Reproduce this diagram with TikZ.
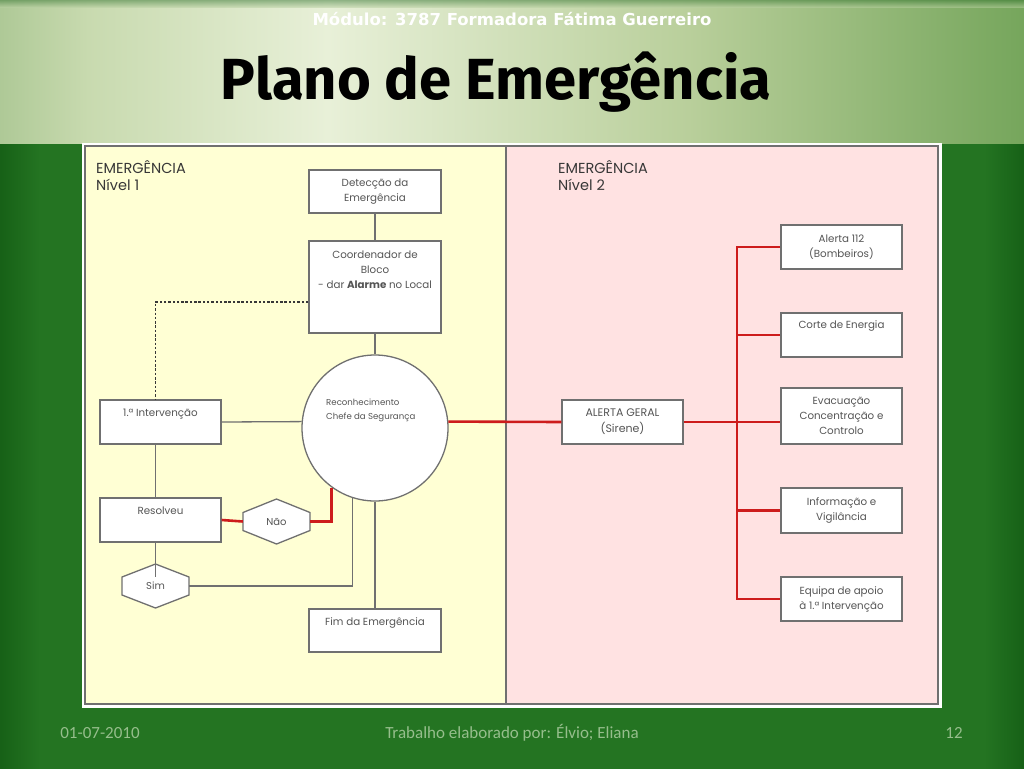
\documentclass[tikz,border=0pt]{standalone}
\usepackage{fontspec}
\setmainfont{Poppins}
\newfontfamily\titlefont{Fira Sans}
\newfontfamily\subfont{DejaVu Sans}
\newfontfamily\footfont{Carlito}
\usetikzlibrary{calc}
\definecolor{slidegreen}{RGB}{36,116,34}
\definecolor{darkgreen}{RGB}{22,96,22}
\definecolor{lightg}{RGB}{232,240,216}
\definecolor{hA}{RGB}{95,148,75}
\definecolor{hB}{RGB}{200,218,175}
\definecolor{hC}{RGB}{185,207,155}
\definecolor{hD}{RGB}{105,158,80}
\definecolor{hE}{RGB}{48,124,40}
\definecolor{yellowbg}{RGB}{255,255,212}
\definecolor{pinkbg}{RGB}{255,226,226}
\definecolor{boxgrey}{RGB}{112,112,112}
\definecolor{txtgrey}{RGB}{85,85,85}
\definecolor{headgrey}{RGB}{55,55,55}
\definecolor{redline}{RGB}{205,28,28}
\definecolor{foottxt}{RGB}{150,190,140}
\pgfdeclarehorizontalshading{slidehdr}{100bp}{color(0bp)=(darkgreen); color(11.7bp)=(hA); color(29.3bp)=(hB); color(41bp)=(lightg); color(58.6bp)=(hC); color(78.1bp)=(hD); color(92.8bp)=(hE); color(100bp)=(slidegreen)}
\begin{document}
\begin{tikzpicture}[x=1pt,y=-1pt,
  box/.style={draw=boxgrey, line width=1.3pt, fill=white, minimum width=121pt, minimum height=44pt, inner sep=1pt,
    font=\fontsize{10.3}{15}\selectfont, text=txtgrey, align=center},
  wbox/.style={box, minimum width=132pt, minimum height=43pt},
  boxtext/.style={font=\fontsize{10.3}{15}\selectfont, text=txtgrey, align=center, inner sep=0pt},
  heading/.style={font=\fontsize{14.5}{17}\selectfont, text=headgrey, align=left, inner sep=0pt},
  greyline/.style={draw=boxgrey, line width=1.3pt},
  redcon/.style={draw=redline, line width=2.6pt},
  dashcon/.style={draw=headgrey, line width=1.2pt, dash pattern=on 2.5pt off 1.8pt},
  hexshape/.style={draw=boxgrey, line width=1.3pt, fill=white},
  foot/.style={font=\footfont\fontsize{17}{19}\selectfont, text=foottxt, anchor=base}
]
\useasboundingbox (0,0) rectangle (1024,768);
% slide background
\fill[slidegreen] (-5,-5) rectangle (1030,775);
\shade[left color=darkgreen, right color=slidegreen] (-2,-2) rectangle (40,772);
\shade[left color=slidegreen, right color=darkgreen] (984,-2) rectangle (1026,772);
\shade[shading=slidehdr] (0,-2) rectangle (1024,143);
\shade[top color=darkgreen, bottom color=hB, opacity=0.5] (-2,-2) rectangle (1026,8);

% titles
\node[font=\subfont\bfseries\fontsize{16.5}{18}\selectfont, text=white, anchor=base] (modulo) at (512,26) {Módulo: 3787 Formadora Fátima Guerreiro};
\node[font=\titlefont\bfseries\fontsize{58}{60}\selectfont, text=black, anchor=base] (titulo) at (496,99) {Plano de Emergência};

% footer
\node[foot] (data) at (100,738) {01-07-2010};
\node[foot] (autores) at (512,738) {Trabalho elaborado por: Élvio; Eliana};
\node[foot] (pagina) at (954,738) {12};

% diagram frame
\fill[white] (82,143) rectangle (942,708);
\fill[yellowbg] (86,147) rectangle (506,703);
\fill[pinkbg] (506,147) rectangle (937,703);
\draw[boxgrey, line width=2.5pt] (85,146) rectangle (938,704);
\draw[boxgrey, line width=2pt] (506,146) -- (506,704);

% headings
\node[heading, anchor=north west] (h1) at (96,160) {EMERGÊNCIA\\Nível 1};
\node[heading, anchor=north west] (h2) at (558,160) {EMERGÊNCIA\\Nível 2};

% level 1 nodes
\node[wbox] (det) at (375,191.5) {Detecção da\\Emergência};
\node[wbox, minimum height=92pt] (coord) at (375,287) {};
\node[boxtext, anchor=north] (coordtxt) at ([yshift=-10pt]coord.north) {Coordenador de\\Bloco\\- dar \textbf{Alarme} no Local};
\node[circle, draw=boxgrey, line width=1.3pt, fill=white, minimum size=146pt, inner sep=0pt] (chefe) at (375,428) {};
\node[font=\fontsize{8.6}{14}\selectfont, text=txtgrey, align=left, anchor=north west, inner sep=0pt] (chefetxt) at (326,399) {Reconhecimento\\Chefe da Segurança};
\node[box] (int) at (160.5,422) {};
\node[boxtext, anchor=north] (inttxt) at ([yshift=-9pt]int.north) {1.ª Intervenção};
\node[box] (res) at (160.5,520) {};
\node[boxtext, anchor=north] (restxt) at ([yshift=-9pt]res.north) {Resolveu};
\node[wbox] (fim) at (375,630.5) {};
\node[boxtext, anchor=north] (fimtxt) at ([yshift=-9pt]fim.north) {Fim da Emergência};

% hexagons
\draw[hexshape, shift={(276.5,521.5)}] (-33.5,-9) -- (0,-22.5) -- (33.5,-9) -- (33.5,9) -- (0,22.5) -- (-33.5,9) -- cycle;
\node[minimum width=67pt, minimum height=18pt, inner sep=0pt, font=\fontsize{10}{12}\selectfont, text=txtgrey] (nao) at (276.5,521.5) {Não};
\draw[hexshape, shift={(155.5,586)}] (-33.5,-9) -- (0,-22) -- (33.5,-9) -- (33.5,9) -- (0,22) -- (-33.5,9) -- cycle;
\node[minimum width=67pt, minimum height=18pt, inner sep=0pt, font=\fontsize{10}{12}\selectfont, text=txtgrey] (sim) at (155.5,586) {Sim};

% level 2 nodes
\node[box, font=\fontsize{11}{16}\selectfont] (alerta) at (622.5,422) {ALERTA GERAL\\(Sirene)};
\node[box] (a112) at (841.5,247) {Alerta 112\\(Bombeiros)};
\node[box] (corte) at (841.5,335) {};
\node[boxtext, anchor=north] (cortetxt) at ([yshift=-8pt]corte.north) {Corte de Energia};
\node[box, minimum height=56pt] (evac) at (841.5,416) {Evacuação\\Concentração e\\Controlo};
\node[box, minimum height=45pt] (info) at (841.5,510.5) {Informação e\\Vigilância};
\node[box] (equipa) at (841.5,599) {Equipa de apoio\\à 1.ª Intervenção};
\coordinate (tk) at (737,0);

% grey connectors
\draw[greyline] (det) -- (coord);
\draw[greyline] (coord) -- (chefe);
\draw[greyline] (int.east) -- (chefe.175);
\draw[greyline] (int.south -| sim.north) -- (res.north -| sim.north);
\draw[greyline] (res.south -| sim.north) -- (sim.north);
\draw[greyline] (sim.east) -| (chefe.252);
\draw[greyline] (chefe) -- (fim);
\draw[dashcon] ([yshift=-15pt]coord.west) -| (int.north -| sim.north);

% red connectors
\draw[redcon] (res.east) -- (nao.west);
\draw[redcon] (nao.east) -| (chefe.234);
\draw[redcon] (chefe.5) -- (alerta.west);
\draw[redcon] (alerta.east) -- (alerta.east -| evac.west);
\draw[redcon] (a112.west) -| (equipa.west -| tk) -- (equipa.west);
\draw[redcon] (corte.west -| tk) -- (corte.west);
\draw[redcon] (info.west -| tk) -- (info.west);
\end{tikzpicture}
\end{document}
